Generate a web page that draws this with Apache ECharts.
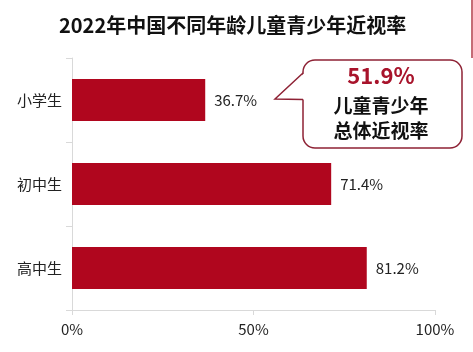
<!DOCTYPE html>
<html><head><meta charset="utf-8">
<script src="https://cdn.jsdelivr.net/npm/echarts@6/dist/echarts.min.js"></script>
<style>html,body{margin:0;padding:0;background:#fff}#c{width:473px;height:352px}</style>
</head><body><div id="c"></div>
<script>
var categories = ['小学生', '初中生', '高中生'];
var values = [36.7, 71.4, 81.2];
var xTicks = [0, 50, 100];
var titleText = '2022年中国不同年龄儿童青少年近视率';
var calloutValue = '51.9%';
var calloutLines = ['儿童青少年', '总体近视率'];

var chart = echarts.init(document.getElementById('c'));
var font = '"Noto Sans CJK SC", "Noto Sans", sans-serif';
chart.setOption({
  animation: false,
  textStyle: { fontFamily: font },
  title: {
    text: titleText, left: 54, top: 10,
    textStyle: { fontSize: 20, fontWeight: 'bold', color: '#111', fontFamily: font }
  },
  grid: { left: 72, right: 38, top: 58, bottom: 42, containLabel: false },
  xAxis: {
    type: 'value', min: xTicks[0], max: xTicks[xTicks.length - 1], interval: 50,
    axisLine: { show: true, lineStyle: { color: '#d9d9d9' } },
    axisTick: { show: true, length: 5, lineStyle: { color: '#d9d9d9' } },
    splitLine: { show: false },
    axisLabel: { formatter: '{value}%', fontSize: 15, color: '#222', margin: 12 }
  },
  yAxis: {
    type: 'category', data: categories, inverse: true,
    axisLine: { show: true, lineStyle: { color: '#d9d9d9' } },
    axisTick: { show: true, length: 6, lineStyle: { color: '#d9d9d9' } },
    axisLabel: { fontSize: 15, color: '#222', margin: 10 }
  },
  series: [{
    type: 'bar', data: values, barWidth: '50%',
    itemStyle: { color: '#b0061e' },
    label: { show: true, position: 'right', distance: 9, formatter: '{c}%', fontSize: 15, color: '#222' }
  }],
  graphic: [
    { type: 'rect', shape: { x: 303, y: 60, width: 159, height: 88, r: 12 },
      style: { fill: '#fff', stroke: '#8e2235', lineWidth: 1.5 } },
    { type: 'polygon', shape: { points: [[276, 99], [304.5, 73], [304.5, 99.5]] },
      style: { fill: '#fff', stroke: null } },
    { type: 'polyline', shape: { points: [[303, 73], [275, 99], [303, 99.5]] },
      style: { fill: null, stroke: '#8e2235', lineWidth: 1.5 } },
    { type: 'text', style: { text: calloutValue, x: 381, y: 76, fill: '#a8132b', font: 'bold 22px ' + font, align: 'center', verticalAlign: 'middle' } },
    { type: 'text', style: { text: calloutLines[0], x: 381, y: 106, fill: '#111', font: 'bold 19px ' + font, align: 'center', verticalAlign: 'middle' } },
    { type: 'text', style: { text: calloutLines[1], x: 381, y: 131, fill: '#111', font: 'bold 19px ' + font, align: 'center', verticalAlign: 'middle' } },
    { type: 'line', shape: { x1: 472, y1: 0, x2: 472, y2: 58 }, style: { stroke: '#b23a48', lineWidth: 1.5 } }
  ]
});
</script></body></html>
